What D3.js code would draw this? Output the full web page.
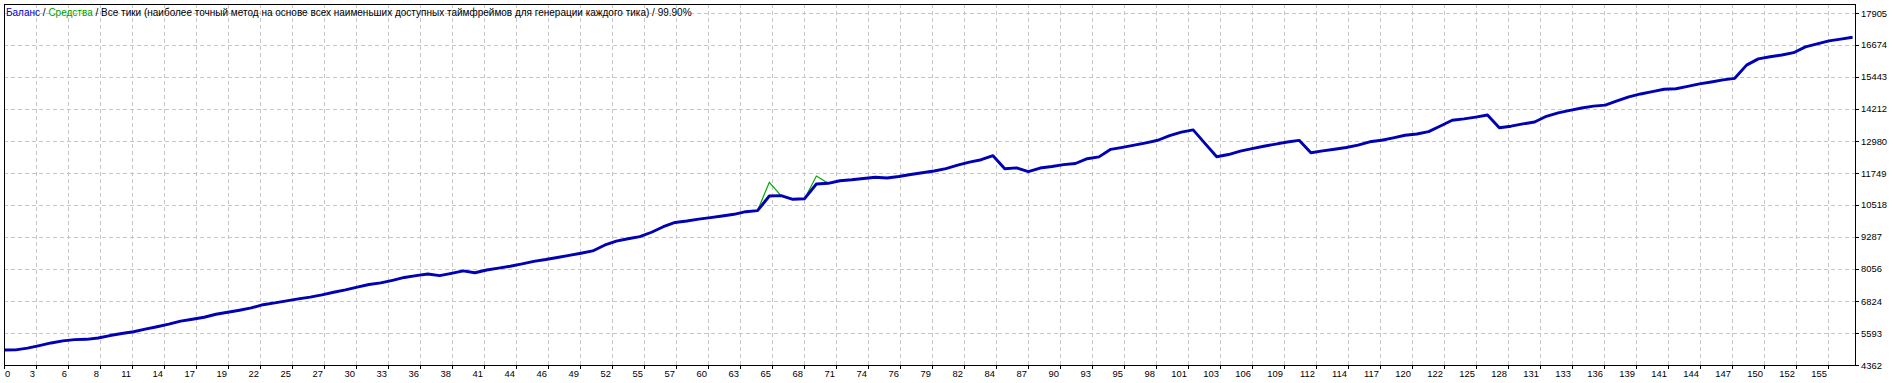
<!DOCTYPE html>
<html>
  <head>
    <meta charset="UTF-8">
    <title>Тестер: баланс / средства</title>
    <script src="https://d3js.org/d3.v7.min.js"></script>
    <style>
      body { margin: 0; background: #fff; }
      text { font-family: "Liberation Sans", Arial, sans-serif; white-space: pre; }
    </style>
  </head>
  <body>
    <svg width="1900" height="383"></svg>
    <script>
      // баланс по номеру сделки (0..157)
      const balance = [
        4939, 4942, 5010, 5110, 5210, 5290, 5340, 5350, 5400, 5495,
        5575, 5640, 5740, 5835, 5935, 6050, 6120, 6200, 6315, 6390,
        6470, 6560, 6682, 6750, 6830, 6905, 6975, 7060, 7160, 7250,
        7360, 7460, 7520, 7620, 7730, 7800, 7865, 7800, 7890, 7985,
        7910, 8017, 8090, 8160, 8250, 8351, 8420, 8500, 8580, 8660,
        8750, 8970, 9130, 9220, 9300, 9470, 9683, 9845, 9902, 9975,
        10030, 10095, 10160, 10260, 10300, 10864, 10877, 10737, 10760, 11326,
        11352, 11450, 11487, 11540, 11583, 11557, 11615, 11690, 11760, 11826,
        11920, 12050, 12170, 12260, 12415, 11915, 11945, 11800, 11941, 12000,
        12070, 12115, 12299, 12370, 12660, 12735, 12820, 12910, 13010, 13190,
        13320, 13410, 12890, 12376, 12460, 12590, 12690, 12780, 12860, 12940,
        13006, 12530, 12600, 12665, 12730, 12820, 12950, 13010, 13100, 13200,
        13250, 13340, 13560, 13780, 13830, 13900, 13980, 13492, 13550, 13640,
        13710, 13930, 14060, 14160, 14250, 14320, 14360, 14520, 14680, 14790,
        14880, 14970, 14990, 15080, 15180, 15250, 15330, 15392, 15900, 16140,
        16220, 16290, 16378, 16600, 16720, 16830, 16900, 16970
      ];

      // средства отличаются от баланса только на двух сделках
      const equitySpikes = [
        { i: 65, v: 11391 },
        { i: 69, v: 11634 }
      ];

      const yTicks = [4362, 5593, 6824, 8056, 9287, 10518, 11749, 12980, 14212, 15443, 16674, 17905];

      const xTickLabels = [
        0, 3, 6, 8, 11, 14, 17, 19, 22, 25, 27, 30, 33, 36, 38, 41, 44, 46, 49, 52,
        55, 57, 60, 63, 65, 68, 71, 74, 76, 79, 82, 84, 87, 90, 93, 95, 98, 101, 103, 106,
        109, 112, 114, 117, 120, 122, 125, 128, 131, 133, 136, 139, 141, 144, 147, 150, 152, 155
      ];

      const title = [
        { t: "Баланс", c: "#0000c8" },
        { t: " / ", c: "#000" },
        { t: "Средства", c: "#00a000" },
        { t: " / Все тики (наиболее точный метод на основе всех наименьших доступных таймфреймов для генерации каждого тика) / 99.90%", c: "#000" }
      ];

      const equity = balance.slice();
      equitySpikes.forEach(d => { equity[d.i] = d.v; });

      const plotL = 4, plotR = 1855, plotT = 4, plotB = 365;
      const gridStep = 32;

      const svg = d3.select("svg");

      const x = d3.scaleLinear()
        .domain([0, balance.length - 1])
        .range([plotL, 1852.5]);

      const y = d3.scaleLinear()
        .domain([yTicks[0], yTicks[yTicks.length - 1]])
        .range([plotB, plotB - gridStep * (yTicks.length - 1)]);

      // вертикальная сетка идёт с постоянным шагом в пикселях
      const tradesPerGrid = gridStep / (x(1) - x(0));
      const gx = k => x(k * tradesPerGrid);

      const grid = svg.append("g")
        .attr("stroke", "#c6c6c6")
        .attr("stroke-width", 1)
        .attr("stroke-dasharray", "4,3")
        .attr("shape-rendering", "crispEdges");

      grid.selectAll("line.v")
        .data(xTickLabels.slice(1))
        .join("line")
        .attr("class", "v")
        .attr("x1", (d, i) => Math.round(gx(i + 1)) + 0.5)
        .attr("x2", (d, i) => Math.round(gx(i + 1)) + 0.5)
        .attr("y1", plotT)
        .attr("y2", plotB);

      grid.selectAll("line.h")
        .data(yTicks.slice(1))
        .join("line")
        .attr("class", "h")
        .attr("x1", plotL)
        .attr("x2", plotR)
        .attr("y1", d => Math.round(y(d)) + 0.5)
        .attr("y2", d => Math.round(y(d)) + 0.5);

      const line = d3.line()
        .x((d, i) => x(i))
        .y(d => y(d));

      svg.append("path")
        .datum(equity)
        .attr("fill", "none")
        .attr("stroke", "#00a800")
        .attr("stroke-width", 1.2)
        .attr("d", line);

      svg.append("path")
        .datum(balance)
        .attr("fill", "none")
        .attr("stroke", "#0000b4")
        .attr("stroke-width", 2.9)
        .attr("stroke-linejoin", "round")
        .attr("d", line);

      // рамка
      svg.append("rect")
        .attr("x", plotL + 0.5)
        .attr("y", plotT + 0.5)
        .attr("width", plotR - plotL)
        .attr("height", plotB - plotT)
        .attr("fill", "none")
        .attr("stroke", "#000")
        .attr("shape-rendering", "crispEdges");

      const ticks = svg.append("g")
        .attr("stroke", "#000")
        .attr("shape-rendering", "crispEdges");

      ticks.selectAll("line.yt")
        .data(yTicks)
        .join("line")
        .attr("class", "yt")
        .attr("x1", plotR + 0.5)
        .attr("x2", plotR + 3.5)
        .attr("y1", d => Math.round(y(d)) + 0.5)
        .attr("y2", d => Math.round(y(d)) + 0.5);

      ticks.selectAll("line.xt")
        .data(xTickLabels)
        .join("line")
        .attr("class", "xt")
        .attr("x1", (d, i) => Math.round(gx(i)) + 0.5)
        .attr("x2", (d, i) => Math.round(gx(i)) + 0.5)
        .attr("y1", plotB + 0.5)
        .attr("y2", plotB + 3.5);

      svg.append("g")
        .selectAll("text")
        .data(yTicks)
        .join("text")
        .attr("x", plotR + 6)
        .attr("y", d => y(d) + 3.5)
        .attr("font-size", "9.4px")
        .attr("fill", "#000")
        .text(d => d);

      svg.append("g")
        .selectAll("text")
        .data(xTickLabels)
        .join("text")
        .attr("x", (d, i) => i === 0 ? plotL + 1 : gx(i) - 1)
        .attr("y", 377)
        .attr("text-anchor", (d, i) => i === 0 ? "start" : "end")
        .attr("font-size", "9.4px")
        .attr("fill", "#000")
        .text(d => d);

      svg.append("text")
        .attr("x", 6)
        .attr("y", 16)
        .attr("font-size", "10px")
        .selectAll("tspan")
        .data(title)
        .join("tspan")
        .attr("fill", d => d.c)
        .text(d => d.t);
    </script>
  </body>
</html>
